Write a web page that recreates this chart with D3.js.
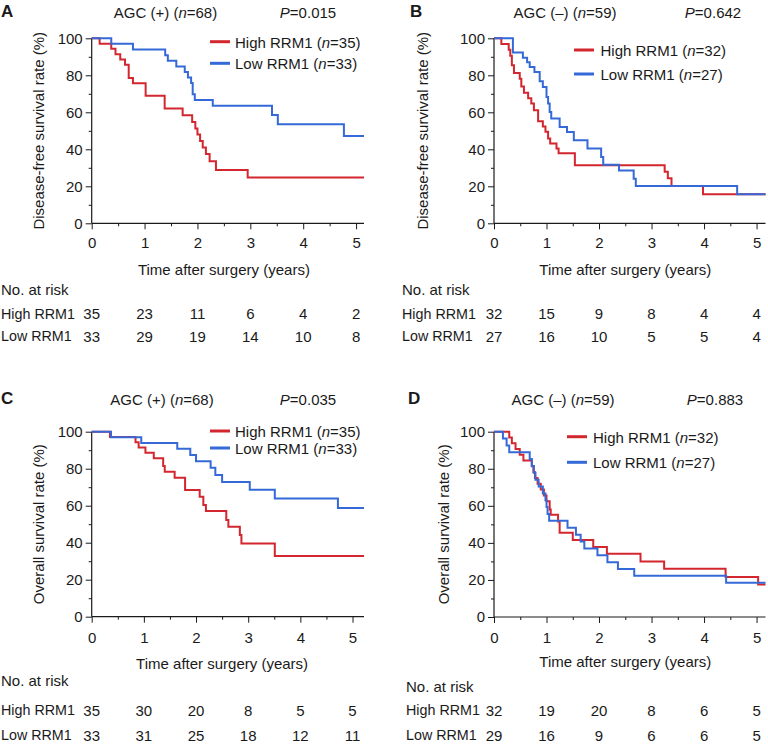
<!DOCTYPE html>
<html><head><meta charset="utf-8">
<script src="https://cdn.jsdelivr.net/npm/d3@7/dist/d3.min.js"></script>
<style>
body{margin:0;background:#fff}
svg{display:block}
text{font-family:"Liberation Sans",Arial,Helvetica,sans-serif;fill:#1a1a1a}
</style>
</head><body>
<svg id="chart" width="768" height="744"></svg>
<script>
// ---------- data ----------
const xTickValues = [0,1,2,3,4,5];
const yTickValues = [0,20,40,60,80,100];
const groupNames = ["High RRM1","Low RRM1"];

// Panel A: disease-free survival, AGC (+)
const aHighTime = [0,0.15,0.37,0.45,0.54,0.63,0.70,0.78,1.02,1.38,1.72,1.90,1.96,2.00,2.05,2.10,2.16,2.23,2.35,2.95];
const aHighSurv = [100,97.1,94.3,91.4,88.6,85.7,78.6,75.7,69.0,62.0,58.4,54.8,51.3,48.0,44.5,41.0,37.5,33.5,28.8,24.8];
const aLowTime  = [0,0.37,0.78,1.39,1.44,1.60,1.76,1.82,1.88,1.91,1.95,2.29,3.41,3.52,4.77];
const aLowSurv  = [100,97.0,93.9,90.9,87.9,84.8,81.8,78.8,75.8,69.7,66.7,63.6,58.5,53.5,47.2];
const aRiskHigh = [35,23,11,6,4,2];
const aRiskLow  = [33,29,19,14,10,8];

// Panel B: disease-free survival, AGC (-)
const bHighTime = [0,0.14,0.28,0.31,0.34,0.38,0.49,0.52,0.57,0.65,0.71,0.76,0.84,0.93,0.98,1.03,1.07,1.19,1.23,1.54,3.25,3.31,3.38,3.98];
const bHighSurv = [100,96.9,93.8,90.6,85.4,81.3,78.1,74.0,70.6,67.6,64.7,61.1,55.2,52.3,49.5,45.9,43.2,40.5,37.8,31.4,27.9,24.3,20.2,15.7];
const bLowTime  = [0,0.36,0.55,0.63,0.68,0.77,0.87,0.93,1.00,1.03,1.06,1.09,1.25,1.39,1.52,1.78,2.04,2.08,2.38,2.66,2.70,4.63];
const bLowSurv  = [100,92.3,89.5,87.0,84.5,81.8,76.8,73.7,68.3,64.7,60.2,56.6,52.1,49.4,44.9,40.4,35.9,31.7,28.6,24.1,20.2,15.7];
const bRiskHigh = [32,15,9,8,4,4];
const bRiskLow  = [27,16,10,5,5,4];

// Panel C: overall survival, AGC (+)
const cHighTime = [0,0.35,0.84,0.90,1.03,1.19,1.37,1.40,1.59,1.79,2.07,2.14,2.19,2.58,2.62,2.84,2.87,3.51];
const cHighSurv = [100,97.1,94.3,91.4,88.6,85.7,81.5,78.4,75.1,68.5,64.9,60.4,57.1,52.3,48.6,44.1,39.6,32.8];
const cLowTime  = [0,0.37,0.95,1.64,1.89,2.00,2.28,2.37,2.50,3.03,3.51,4.72];
const cLowSurv  = [100,97.0,93.9,90.8,87.4,84.0,80.5,76.6,72.8,68.6,63.9,58.8];
const cRiskHigh = [35,30,20,8,5,5];
const cRiskLow  = [33,31,25,18,12,11];

// Panel D: overall survival, AGC (-)
const dHighTime = [0,0.29,0.34,0.41,0.49,0.56,0.72,0.75,0.78,0.83,0.89,0.95,1.00,1.06,1.08,1.22,1.25,1.50,1.89,2.15,2.79,3.24,4.41,5.03];
const dHighSurv = [100,96.9,93.8,90.6,87.5,84.4,81.3,78.1,75.0,71.9,68.8,65.6,62.5,58.0,55.2,51.5,45.4,41.5,37.8,34.2,30.0,26.0,21.6,17.6];
const dLowTime  = [0,0.17,0.24,0.29,0.68,0.72,0.76,0.79,0.85,0.93,0.98,1.00,1.02,1.05,1.40,1.56,1.65,1.72,1.97,2.16,2.36,2.67,4.42];
const dLowSurv  = [100,96.3,92.6,88.9,85.2,81.5,77.8,74.1,70.4,66.7,63.0,59.3,55.6,51.9,48.1,44.4,40.7,37.0,33.3,29.6,25.9,22.2,18.5];
const dRiskHigh = [32,19,20,8,6,5];
const dRiskLow  = [29,16,9,6,6,5];

// ---------- layout ----------
const RED = "#d3262f", BLUE = "#3569d8";
const FS = 15;
const FS_RISK = 14.3;

const panels = [
  {letter:"A", lx:1, ly:17, x0:91.7, x1:364, xmax:5.15, yT:38.3, yB:223.3,
   group:"AGC (+) (", nTot:"=68)", titleX:165.5, pText:"=0.015", pX:308, titleY:12,
   legLine:[210,230], legTextX:235, legY:[41.7,63.3], nHigh:"=35)", nLow:"=33)",
   yLabel:"Disease-free survival rate (%)", yLabelX:38,
   tickLabelY:243, axisTitleY:269.5, riskLabelX:1, riskTitleY:289.5, riskY:[313.5,336]
   , high:[aHighTime,aHighSurv], low:[aLowTime,aLowSurv], riskHigh:aRiskHigh, riskLow:aRiskLow},
  {letter:"B", lx:410, ly:17, x0:494, x1:765.5, xmax:5.17, yT:38.3, yB:223.3,
   group:"AGC (\u2013) (", nTot:"=59)", titleX:565, pText:"=0.642", pX:713, titleY:12,
   legLine:[574,594], legTextX:600.5, legY:[50,74], nHigh:"=32)", nLow:"=27)",
   yLabel:"Disease-free survival rate (%)", yLabelX:422,
   tickLabelY:243, axisTitleY:269.5, riskLabelX:402, riskTitleY:289.5, riskY:[313.5,336],
   high:[bHighTime,bHighSurv], low:[bLowTime,bLowSurv], riskHigh:bRiskHigh, riskLow:bRiskLow},
  {letter:"C", lx:1, ly:404, x0:91.7, x1:364, xmax:5.22, yT:431.7, yB:616.7,
   group:"AGC (+) (", nTot:"=68)", titleX:162, pText:"=0.035", pX:308, titleY:399,
   legLine:[210,230], legTextX:235, legY:[431,448], nHigh:"=35)", nLow:"=33)",
   yLabel:"Overall survival rate (%)", yLabelX:38,
   tickLabelY:637.3, axisTitleY:663.3, riskLabelX:1, riskTitleY:680.7, riskY:[710,735],
   high:[cHighTime,cHighSurv], low:[cLowTime,cLowSurv], riskHigh:cRiskHigh, riskLow:cRiskLow},
  {letter:"D", lx:408, ly:404, x0:494, x1:765.5, xmax:5.17, yT:431.7, yB:617,
   group:"AGC (\u2013) (", nTot:"=59)", titleX:563, pText:"=0.883", pX:715, titleY:399,
   legLine:[567,587], legTextX:593, legY:[436.7,462.3], nHigh:"=32)", nLow:"=27)",
   yLabel:"Overall survival rate (%)", yLabelX:443,
   tickLabelY:637.3, axisTitleY:661.7, riskLabelX:406, riskTitleY:686.7, riskY:[710,735],
   high:[dHighTime,dHighSurv], low:[dLowTime,dLowSurv], riskHigh:dRiskHigh, riskLow:dRiskLow}
];

const svg = d3.select("#chart");

panels.forEach(p => {
  const g = svg.append("g");
  const x = d3.scaleLinear().domain([0, p.xmax]).range([p.x0, p.x1]);
  const y = d3.scaleLinear().domain([0, 100]).range([p.yB, p.yT]);

  // panel letter
  g.append("text").attr("x", p.lx).attr("y", p.ly)
    .attr("font-size", 17).attr("font-weight", "bold").text(p.letter);

  // title
  const t = g.append("text").attr("x", p.titleX).attr("y", p.titleY)
    .attr("dominant-baseline", "central").attr("text-anchor", "middle").attr("font-size", FS);
  t.append("tspan").text(p.group);
  t.append("tspan").attr("font-style", "italic").text("n");
  t.append("tspan").text(p.nTot);
  const pv = g.append("text").attr("x", p.pX).attr("y", p.titleY)
    .attr("dominant-baseline", "central").attr("text-anchor", "middle").attr("font-size", FS);
  pv.append("tspan").attr("font-style", "italic").text("P");
  pv.append("tspan").text(p.pText);

  // y axis
  const yAxis = d3.axisLeft(y).tickValues(yTickValues).tickSize(6).tickPadding(3);
  const ya = g.append("g").attr("transform", `translate(${p.x0},0)`).call(yAxis);
  ya.select(".domain").remove();
  ya.selectAll("text").attr("font-size", FS).attr("font-family", null).attr("fill", "#1a1a1a");
  ya.selectAll("line").attr("stroke", "#1a1a1a");
  const yMinor = d3.axisLeft(y).tickValues(d3.range(10, 100, 20)).tickSize(3).tickFormat("");
  const ym = g.append("g").attr("transform", `translate(${p.x0},0)`).call(yMinor);
  ym.select(".domain").remove();
  ym.selectAll("line").attr("stroke", "#1a1a1a");

  // x axis
  const xAxis = d3.axisBottom(x).tickValues(xTickValues).tickSize(6).tickPadding(4).tickFormat(d3.format("d"));
  const xa = g.append("g").attr("transform", `translate(0,${p.yB})`).call(xAxis);
  xa.select(".domain").remove();
  xa.selectAll("text").attr("font-size", FS).attr("font-family", null).attr("fill", "#1a1a1a")
    .attr("dy", null).attr("y", p.tickLabelY - p.yB).attr("dominant-baseline", "central");
  xa.selectAll("line").attr("stroke", "#1a1a1a");
  const xMinor = d3.axisBottom(x).tickValues(d3.range(0.5, p.xmax, 1)).tickSize(3).tickFormat("");
  const xm = g.append("g").attr("transform", `translate(0,${p.yB})`).call(xMinor);
  xm.select(".domain").remove();
  xm.selectAll("line").attr("stroke", "#1a1a1a");

  // axis lines
  g.append("line").attr("x1", p.x0).attr("x2", p.x0).attr("y1", y(100)).attr("y2", y(0))
    .attr("stroke", "#1a1a1a").attr("stroke-width", 1.2);
  g.append("line").attr("x1", p.x0).attr("x2", x(p.xmax)).attr("y1", y(0)).attr("y2", y(0))
    .attr("stroke", "#1a1a1a").attr("stroke-width", 1.2);

  // y label
  g.append("text")
    .attr("transform", `translate(${p.yLabelX},${(p.yT + p.yB) / 2}) rotate(-90)`)
    .attr("text-anchor", "middle").attr("dominant-baseline", "central")
    .attr("font-size", FS).text(p.yLabel);

  // curves
  const line = d3.line().x(d => x(d[0])).y(d => y(d[1])).curve(d3.curveStepAfter);
  [[p.high, RED], [p.low, BLUE]].forEach(([series, col]) => {
    const pts = series[0].map((tt, i) => [tt, series[1][i]]);
    pts.push([p.xmax, series[1][series[1].length - 1]]);
    g.append("path").datum(pts).attr("d", line)
      .attr("fill", "none").attr("stroke", col).attr("stroke-width", 2)
      .attr("stroke-linejoin", "miter");
  });

  // legend
  [[groupNames[0], p.nHigh, RED, p.legY[0]], [groupNames[1], p.nLow, BLUE, p.legY[1]]].forEach(([nm, nn, col, ly]) => {
    g.append("line").attr("x1", p.legLine[0]).attr("x2", p.legLine[1]).attr("y1", ly).attr("y2", ly)
      .attr("stroke", col).attr("stroke-width", 3);
    const lt = g.append("text").attr("x", p.legTextX).attr("y", ly)
      .attr("dominant-baseline", "central").attr("font-size", FS);
    lt.append("tspan").text(nm + " (");
    lt.append("tspan").attr("font-style", "italic").text("n");
    lt.append("tspan").text(nn);
  });

  // x axis title
  g.append("text").attr("x", (p.x0 + x(5)) / 2).attr("y", p.axisTitleY)
    .attr("text-anchor", "middle").attr("dominant-baseline", "central")
    .attr("font-size", FS).text("Time after surgery (years)");

  // risk table
  g.append("text").attr("x", p.riskLabelX).attr("y", p.riskTitleY)
    .attr("dominant-baseline", "central").attr("font-size", FS).text("No. at risk");
  [[groupNames[0], p.riskHigh, p.riskY[0]], [groupNames[1], p.riskLow, p.riskY[1]]].forEach(([nm, vals, ry]) => {
    g.append("text").attr("x", p.riskLabelX).attr("y", ry)
      .attr("dominant-baseline", "central").attr("font-size", FS_RISK).text(nm);
    g.selectAll(null).data(vals).enter().append("text")
      .attr("x", (d, i) => x(xTickValues[i])).attr("y", ry)
      .attr("text-anchor", "middle").attr("dominant-baseline", "central")
      .attr("font-size", FS).text(d => d);
  });
});
</script>
</body></html>
